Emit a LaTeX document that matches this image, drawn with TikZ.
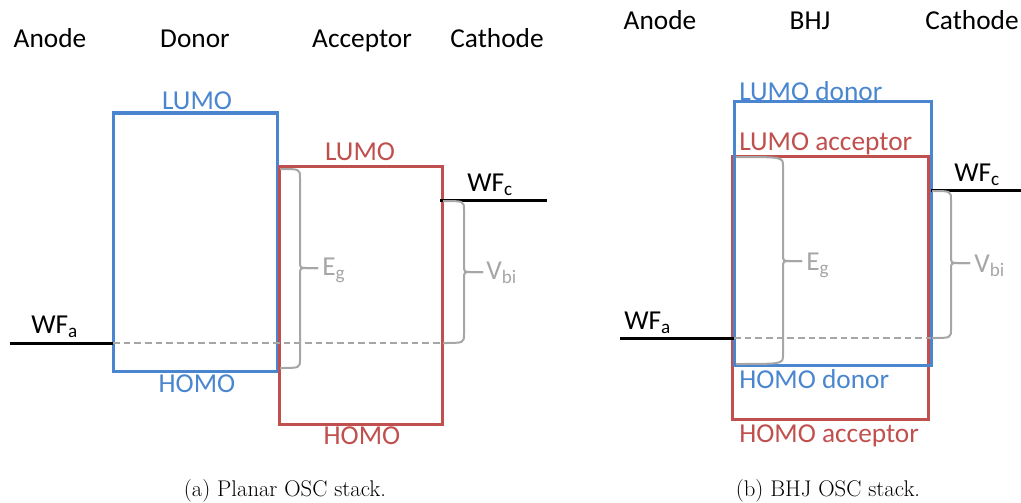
\documentclass[tikz,border=0pt]{standalone}
\usepackage{fontspec}
\newfontfamily\calib{Carlito}
\definecolor{dblue}{RGB}{74,134,208}
\definecolor{ared}{RGB}{192,80,77}
\definecolor{bgray}{RGB}{166,166,166}
\tikzset{
  lbl/.style={font=\calib\fontsize{20.5}{24}\selectfont, inner sep=0pt},
  caplbl/.style={font=\fontsize{17}{20}\selectfont, inner sep=0pt},
  bluebox/.style={draw=dblue, line width=2.25pt},
  redbox/.style={draw=ared, line width=2.25pt},
  wfline/.style={draw=black, line width=2.25pt},
  dashline/.style={draw=bgray, line width=1.5pt, dash pattern=on 5pt off 3pt},
  brc/.style={draw=bgray, line width=1.5pt, line join=round},
  glbl/.style={lbl, text=bgray, anchor=west},
}
\newcommand\obrace[6]{%
  \draw[brc] (#1,#4) .. controls (#2,#4) .. (#2,#4+9) -- (#2,#5-7)
     .. controls (#2,#5) .. (#2+7,#5) -- (#3,#5);
  \draw[brc] (#3,#5) -- (#2+7,#5) .. controls (#2,#5) .. (#2,#5+7)
     -- (#2,#6-9) .. controls (#2,#6) .. (#1,#6);}
\begin{document}
\begin{tikzpicture}[x=0.75pt,y=-0.75pt]
\useasboundingbox (0,0) rectangle (1021,503);
% ---------- panel (a)
\node[lbl, anchor=base] (a-anode) at (50,48) {Anode};
\node[lbl, anchor=base] (a-donor) at (195,48) {Donor};
\node[lbl, anchor=base] (a-acc) at (362,48) {Acceptor};
\node[lbl, anchor=base] (a-cath) at (497,48) {Cathode};
\draw[bluebox] (113,113) rectangle (277,371);
\draw[redbox] (279,166) rectangle (442,424);
\node[lbl, text=dblue, anchor=base] (a-lumod) at (197,109) {LUMO};
\node[lbl, text=dblue, anchor=base] (a-homod) at (197,392) {HOMO};
\node[lbl, text=ared, anchor=base] (a-lumoa) at (360,161) {LUMO};
\node[lbl, text=ared, anchor=base] (a-homoa) at (362,444) {HOMO};
\coordinate (a-wfa0) at (10,343);
\coordinate (a-wfa1) at (113,343);
\coordinate (a-dash1) at (442,343);
\coordinate (a-wfc0) at (440,200);
\coordinate (a-wfc1) at (547,200);
\draw[dashline] (a-wfa1) -- (a-dash1);
\draw[wfline] (a-wfa0) -- (a-wfa1);
\draw[wfline] (a-wfc0) -- (a-wfc1);
\node[lbl, anchor=base west] (a-wfat) at (31,333) {WF\textsubscript{a}};
\node[lbl, anchor=base west] (a-wfct) at (467,191) {WF\textsubscript{c}};
\obrace{280}{300}{318}{169}{268}{368}
\node[glbl] (a-eg) at (322,270) {E\textsubscript{g}};
\obrace{443}{464}{483}{201}{272}{343}
\node[glbl] (a-vbi) at (486,273) {V\textsubscript{bi}};
\node[caplbl] (a-cap) at (285,491) {(a) Planar OSC stack.};
% ---------- panel (b)
\node[lbl, anchor=base] (b-anode) at (660,30) {Anode};
\node[lbl, anchor=base] (b-bhj) at (810,30) {BHJ};
\node[lbl, anchor=base] (b-cath) at (972,30) {Cathode};
\draw[redbox] (732,156) rectangle (928,419);
\draw[bluebox] (734,102) rectangle (931,365);
\node[lbl, text=dblue, anchor=base west] (b-lumod) at (739,100) {LUMO donor};
\node[lbl, text=ared, anchor=base west] (b-lumoa) at (739,150) {LUMO acceptor};
\node[lbl, text=dblue, anchor=base west] (b-homod) at (739,388) {HOMO donor};
\node[lbl, text=ared, anchor=base west] (b-homoa) at (739,442) {HOMO acceptor};
\coordinate (b-wfa0) at (620,338);
\coordinate (b-wfa1) at (734,338);
\coordinate (b-dash1) at (931,338);
\coordinate (b-wfc0) at (931,190);
\coordinate (b-wfc1) at (1021,190);
\draw[dashline] (b-wfa1) -- (b-dash1);
\draw[wfline] (b-wfa0) -- (b-wfa1);
\draw[wfline] (b-wfc0) -- (b-wfc1);
\node[lbl, anchor=base west] (b-wfat) at (624,329) {WF\textsubscript{a}};
\node[lbl, anchor=base west] (b-wfct) at (954,181) {WF\textsubscript{c}};
\obrace{736}{783}{802}{157}{261}{364}
\node[glbl] (b-eg) at (806,265) {E\textsubscript{g}};
\obrace{932}{951}{970}{191}{263}{338}
\node[glbl] (b-vbi) at (974,266) {V\textsubscript{bi}};
\node[caplbl] (b-cap) at (828,491) {(b) BHJ OSC stack.};
\end{tikzpicture}
\end{document}
